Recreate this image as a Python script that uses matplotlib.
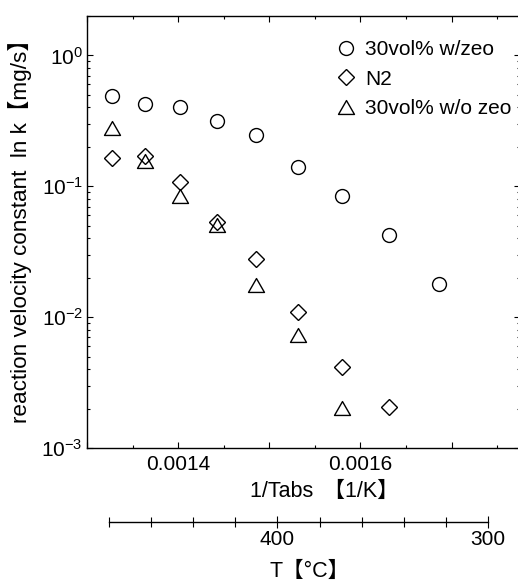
import numpy as np
import matplotlib
matplotlib.use('Agg')
import matplotlib.pyplot as plt
from matplotlib.path import Path
from matplotlib.ticker import MultipleLocator, FixedLocator, LogLocator, NullFormatter, FuncFormatter

plt.rcParams['font.family'] = ['Liberation Sans', 'Noto Sans CJK JP']
plt.rcParams['mathtext.fontset'] = 'custom'
plt.rcParams['mathtext.rm'] = 'Liberation Sans'
plt.rcParams['mathtext.it'] = 'Liberation Sans'
plt.rcParams['mathtext.bf'] = 'Liberation Sans'

# measurement temperatures [degC]
temp_zeo = [480, 460, 440, 420, 400, 380, 360, 340, 320]
k_zeo = [0.489, 0.428, 0.403, 0.318, 0.248, 0.140, 0.0843, 0.0421, 0.0179]

temp_n2 = [480, 460, 440, 420, 400, 380, 360, 340]
k_n2 = [0.164, 0.171, 0.108, 0.0534, 0.0277, 0.0110, 0.00418, 0.00206]

temp_nozeo = [480, 460, 440, 420, 400, 380, 360]
k_nozeo = [0.279, 0.155, 0.0843, 0.0507, 0.0175, 0.0073, 0.00202]

def inv_t(temps):
    return 1.0 / (np.array(temps) + 273.15)

W, H = 518, 580
FS = 15
fig = plt.figure(figsize=(W / 100, H / 100), dpi=100)

ax = fig.add_axes([87 / W, 1 - 448 / H, (520 - 87) / W, (448 - 16) / H])

tri = Path([(-1, -0.87), (1, -0.87), (0, 0.87), (-1, -0.87)],
           [Path.MOVETO, Path.LINETO, Path.LINETO, Path.CLOSEPOLY])
ax.plot(inv_t(temp_zeo), k_zeo, ls='none', marker='o', ms=10, mfc='white', mec='black', mew=1.0,
        label='30vol% w/zeo')
ax.plot(inv_t(temp_n2), k_n2, ls='none', marker='D', ms=7.8, mfc='none', mec='black', mew=1.0,
        label='N2')
ax.plot(inv_t(temp_nozeo), k_nozeo, ls='none', marker=tri, ms=11.5, mfc='none', mec='black', mew=1.0,
        label='30vol% w/o zeo')

ax.set_yscale('log')
ax.set_xlim(0.0013, 0.001775)
ax.set_ylim(1e-3, 2)

ax.xaxis.set_major_locator(MultipleLocator(0.0001))
ax.xaxis.set_minor_locator(MultipleLocator(0.00005))
ax.xaxis.set_major_formatter(FuncFormatter(lambda v, p: '%.4f' % v if round(v * 1e4) % 2 == 0 else ''))
ax.yaxis.set_major_locator(LogLocator(base=10))
ax.yaxis.set_minor_locator(LogLocator(base=10, subs=np.arange(2, 10)))
ax.yaxis.set_minor_formatter(NullFormatter())

ax.tick_params(which='both', direction='in', top=True, right=True, labelsize=FS, width=0.8)
ax.tick_params(which='major', length=4.5)
ax.tick_params(which='minor', length=2.5)
ax.tick_params(axis='x', pad=5)
ax.tick_params(axis='y', pad=3)
for sp in ax.spines.values():
    sp.set_linewidth(1.0)

ax.set_ylabel('reaction velocity constant  ln k【mg/s】', fontsize=16.2)
ax.yaxis.set_label_coords(-0.128, 0.514)
fig.text(250 / W, 1 - 491 / H, '1/Tabs \u2009【1/K】', fontsize=15.5, ha='left', va='center')

leg = ax.legend(loc='upper right', frameon=False, fontsize=FS, handletextpad=0.45,
                handlelength=1.0, labelspacing=0.5, borderaxespad=0.0,
                bbox_to_anchor=(1.0, 0.963))

# temperature scale below the main axis
ax2 = fig.add_axes([108.7 / W, 1 - 522 / H, (488.3 - 108.7) / W, 0.001])
ax2.set_xlim(480, 300)
ax2.set_ylim(0, 1)
for name in ['top', 'left', 'right']:
    ax2.spines[name].set_visible(False)
ax2.spines['bottom'].set_linewidth(1.0)
ax2.set_yticks([])
ax2.xaxis.set_major_locator(FixedLocator([400, 300]))
ax2.xaxis.set_minor_locator(FixedLocator([480, 460, 440, 420, 380, 360, 340, 320]))
ax2.tick_params(which='major', direction='inout', length=9, width=0.8, labelsize=FS, pad=1)
ax2.tick_params(which='minor', direction='inout', length=7, width=0.8)
ax2.patch.set_visible(False)
fig.text(269 / W, 1 - 571 / H, 'T【°C】', fontsize=15.5, ha='left', va='center')

fig.savefig('out.png', dpi=100)
